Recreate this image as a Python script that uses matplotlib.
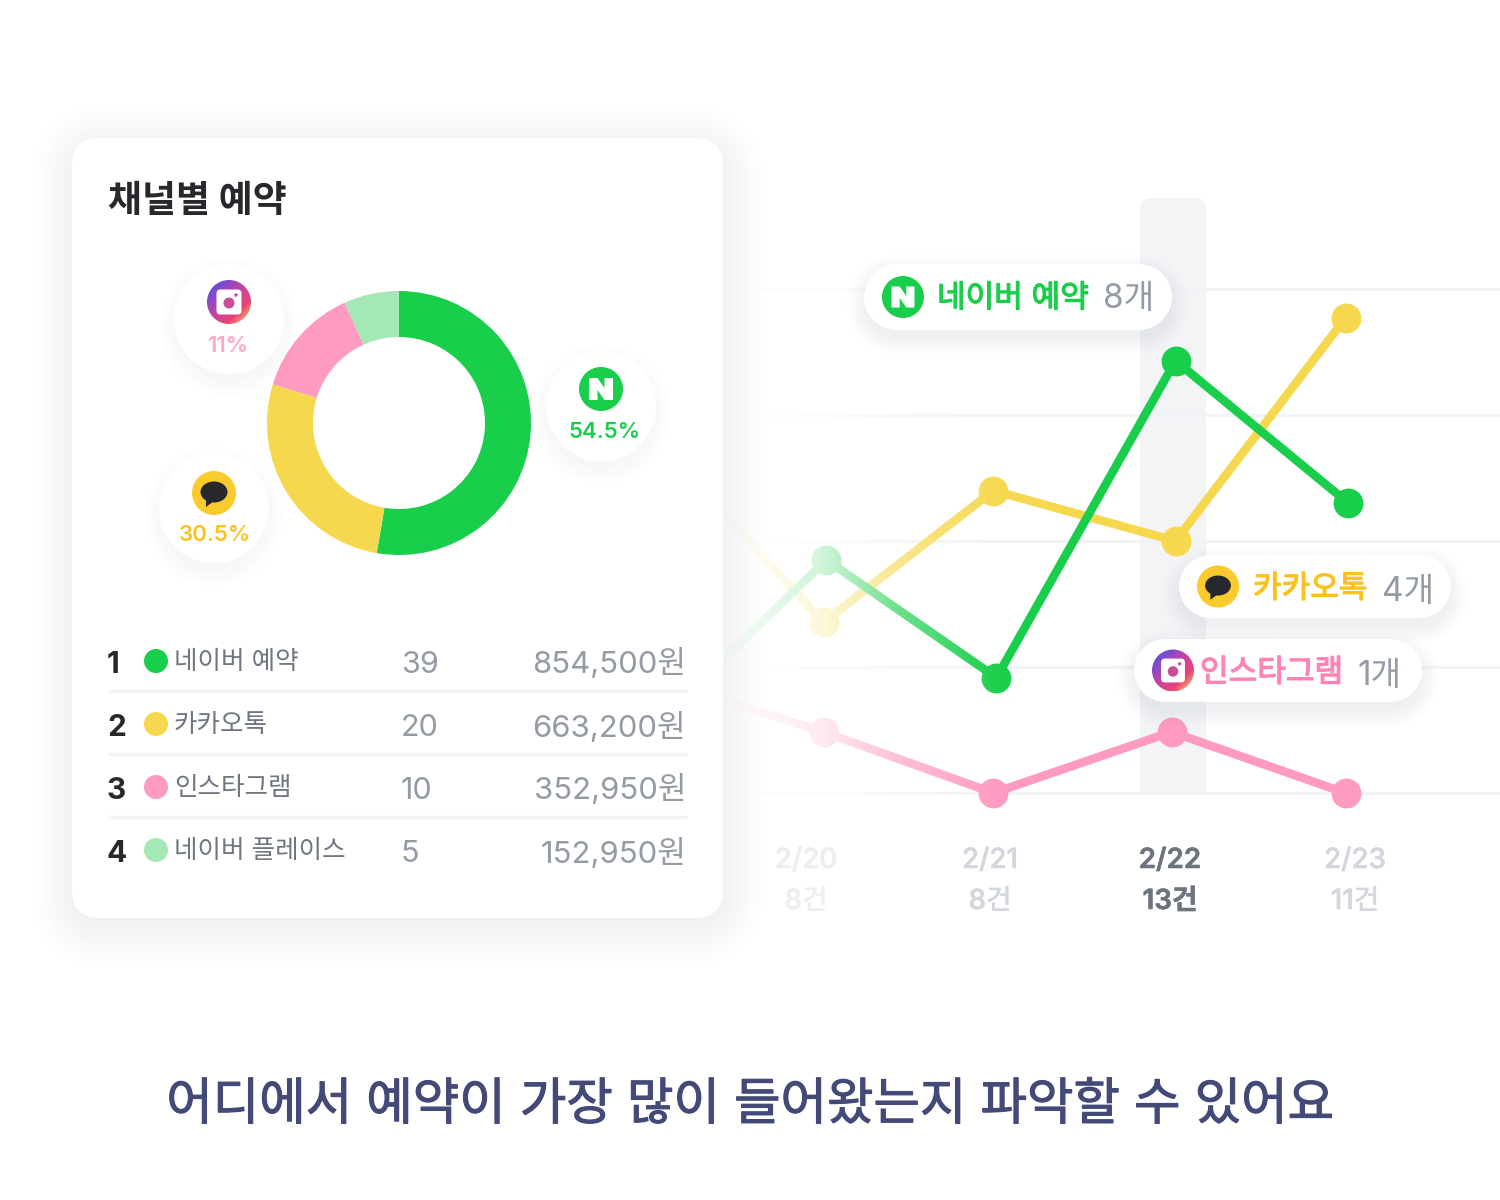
import numpy as np
import matplotlib
matplotlib.use("Agg")
import matplotlib.pyplot as plt
import matplotlib.patheffects as pe
from matplotlib.patches import Circle, Ellipse, FancyBboxPatch, Polygon, Rectangle

plt.rcParams['font.family'] = ['Inter', 'Noto Sans CJK KR', 'DejaVu Sans']

# --- data ---
CHANNELS = ["네이버 예약", "카카오톡", "인스타그램", "네이버 플레이스"]
BOOKINGS = [39, 20, 10, 5]
AMOUNTS = ["854,500원", "663,200원", "352,950원", "152,950원"]

BUBBLE_PCT = ["54.5%", "30.5%", "11%"]

DATES = ["2/20", "2/21", "2/22", "2/23"]
DAY_TOTALS = ["8건", "8건", "13건", "11건"]

# day index (2/20 = 0), 2/19 sits behind the card; y is count per day
NAVER_X = [-1, 0.017, 0.994, 2.023, 3.017]
NAVER_Y = [1.0, 3.7, 1.83, 6.86, 4.6]
KAKAO_X = [-1, 0, 0.977, 2.023, 3]
KAKAO_Y = [5.7, 2.71, 4.8, 4.0, 7.54]
INSTA_X = [-1, 0, 0.977, 2.0, 3]
INSTA_Y = [1.84, 0.97, 0.0, 0.97, 0.0]
GRID_VALUES = [0, 2, 4, 6, 8]

TAG_NAMES = ["네이버 예약", "카카오톡", "인스타그램"]
TAG_COUNTS = ["8개", "4개", "1개"]

GREEN = "#19CE4A"
YELLOW = "#F6D84E"
PINK = "#FF9AC0"
MINT = "#A4E8B5"
KAKAO_TXT = "#FBC21E"
INSTA_TXT = "#FF83B6"
GREY = "#949BA5"
DARK = "#26282B"
W, H = 1500, 1200


def pixel_axes(fig, zorder):
    ax = fig.add_axes([0, 0, 1, 1], zorder=zorder)
    ax.set_xlim(0, W)
    ax.set_ylim(H, 0)
    ax.set_autoscale_on(False)
    ax.axis('off')
    ax.patch.set_alpha(0)
    return ax


def heavy(txt, col, lw):
    """No medium cut of the CJK font here, so thicken regular with a thin stroke."""
    txt.set_path_effects([pe.withStroke(linewidth=lw, foreground=col)])
    return txt


def soft_shadow(ax, x0, y0, x1, y1, r, blur, alpha, dy=8, color=(0.35, 0.4, 0.5)):
    """Blurred rounded-box shadow drawn as an RGBA image."""
    xs = np.arange(x0 - blur, x1 + blur)
    ys = np.arange(y0 - blur + dy, y1 + blur + dy)
    X, Y = np.meshgrid(xs + 0.5, ys + 0.5)
    cx, cy = (x0 + x1) / 2, (y0 + y1) / 2 + dy
    qx = np.abs(X - cx) - (x1 - x0) / 2 + r
    qy = np.abs(Y - cy) - (y1 - y0) / 2 + r
    d = np.hypot(np.maximum(qx, 0), np.maximum(qy, 0)) + np.minimum(np.maximum(qx, qy), 0) - r
    t = np.clip(1 - (d + blur * 0.2) / blur, 0, 1)
    img = np.zeros(X.shape + (4,))
    img[..., :3] = color
    img[..., 3] = alpha * t * t * (3 - 2 * t)
    ax.imshow(img, extent=(xs[0], xs[-1] + 1, ys[-1] + 1, ys[0]), aspect='auto',
              interpolation='bilinear', zorder=1)


def white_box(ax, x0, y0, x1, y1, r, blur=34, alpha=0.13, z=2):
    soft_shadow(ax, x0, y0, x1, y1, r, blur, alpha)
    if 2 * r >= y1 - y0:
        # pill or circle: true round ends
        ax.add_patch(Circle((x0 + r, y0 + r), r, fc="white", ec="none", zorder=z))
        ax.add_patch(Circle((x1 - r, y0 + r), r, fc="white", ec="none", zorder=z))
        ax.add_patch(Rectangle((x0 + r, y0), x1 - x0 - 2 * r, y1 - y0, fc="white", ec="none", zorder=z))
    else:
        ax.add_patch(FancyBboxPatch((x0 + r, y0 + r), x1 - x0 - 2 * r, y1 - y0 - 2 * r,
                                    boxstyle=f"round,pad={r},rounding_size={r}",
                                    fc="white", ec="none", zorder=z))


def naver_icon(ax, cx, cy, r):
    ax.add_patch(Circle((cx, cy), r, fc=GREEN, ec="none", zorder=5))
    s = r / 22
    # wide block N
    n_shape = [(-12, -11), (-3.5, -11), (3.5, -1), (3.5, -11), (12, -11), (12, 11),
               (3.5, 11), (-3.5, 1), (-3.5, 11), (-12, 11), (-12, -11)]
    ax.add_patch(Polygon([(cx + a * s, cy + b * s) for a, b in n_shape], fc="white", ec="none", zorder=6))


def kakao_icon(ax, cx, cy, r):
    ax.add_patch(Circle((cx, cy), r, fc="#FBCB2D", ec="none", zorder=5))
    s = r / 22
    ax.add_patch(Ellipse((cx, cy - 1 * s), 27 * s, 21 * s, fc=DARK, ec="none", zorder=6))
    ax.add_patch(Polygon([(cx - 8 * s, cy + 6 * s), (cx - 8 * s, cy + 14 * s), (cx, cy + 8 * s)],
                         fc=DARK, ec="none", zorder=6))


def insta_icon(ax, cx, cy, r):
    s = r / 22
    u = np.linspace(0, 1, 90)
    X, Y = np.meshgrid(u, u)
    t = (X + Y) / 2
    img = np.zeros(X.shape + (3,))
    for i, stops in enumerate(([0.42, 0.78, 0.91, 0.98], [0.30, 0.27, 0.26, 0.68], [0.85, 0.62, 0.47, 0.40])):
        img[..., i] = np.interp(t, [0.15, 0.5, 0.72, 0.92], stops)
    im = ax.imshow(img, extent=(cx - r, cx + r, cy + r, cy - r), aspect='auto', zorder=5)
    im.set_clip_path(Circle((cx, cy), r, transform=ax.transData))
    ax.add_patch(FancyBboxPatch((cx - 9 * s, cy - 9 * s), 18 * s, 18 * s,
                                boxstyle=f"round,pad={3.5 * s},rounding_size={4 * s}",
                                fc="white", ec="none", zorder=6))
    ax.add_patch(Circle((cx, cy + 1 * s), 5.5 * s, fc="#C74F96", ec="none", zorder=7))
    ax.add_patch(Circle((cx + 7 * s, cy - 7 * s), 1.8 * s, fc="#D9508A", ec="none", zorder=7))


fig = plt.figure(figsize=(15, 12), dpi=100, facecolor="white")

# --- highlight column behind the lines ---
ax_bg = pixel_axes(fig, 0)
ax_bg.add_patch(FancyBboxPatch((1152, 210), 42, 600, boxstyle="round,pad=12,rounding_size=12",
                               fc="#F3F4F6", ec="none"))
ax_bg.add_patch(Rectangle((1130, 795), 90, 40, fc="white", ec="none"))

# --- line chart right of the card, scaled so one day = 174 px and one count = 63 px ---
ax_line = fig.add_axes([723 / W, 0, (W - 723) / W, 1], zorder=1)
ax_line.patch.set_alpha(0)
ax_line.set_xlim((723 - 823.5) / 174, (W - 823.5) / 174)
ax_line.set_ylim((793 - H) / 63, 793 / 63)
ax_line.set_xticks([])
ax_line.set_yticks(GRID_VALUES)
ax_line.tick_params(length=0, labelleft=False)
ax_line.grid(axis='y', color="#F1F3F6", lw=2.2)
ax_line.set_axisbelow(True)
for spine in ax_line.spines.values():
    spine.set_visible(False)
for xs, ys, col in ((INSTA_X, INSTA_Y, PINK), (KAKAO_X, KAKAO_Y, YELLOW), (NAVER_X, NAVER_Y, GREEN)):
    ax_line.plot(xs, ys, color=col, lw=6.2, marker='o', ms=21.5, mew=0, solid_joinstyle='miter')

# white fade that swallows the lines toward the card
ax_fade = pixel_axes(fig, 2)
fade_x = np.arange(723, 1000)
fade = np.ones((1, fade_x.size, 4))
fade[..., 3] = np.interp(fade_x, [723, 824, 900, 994], [1.0, 0.79, 0.36, 0.03])
ax_fade.imshow(fade, extent=(723, 1000, 830, 200), aspect='auto')

ax = pixel_axes(fig, 3)

# --- date labels ---
label_x = [806, 990, 1170, 1355]
label_col = ["#ECEEF1", "#D3D7DD", "#6E747E", "#D3D7DD"]
for i, (d, n) in enumerate(zip(DATES, DAY_TOTALS)):
    wt = 'semibold' if i == 2 else 'medium'
    heavy(ax.text(label_x[i], 861, d, color=label_col[i], fontsize=20, fontweight=wt, ha='center', va='center'),
          label_col[i], 0.4)
    heavy(ax.text(label_x[i], 902, n, color=label_col[i], fontsize=20, fontweight=wt, ha='center', va='center'),
          label_col[i], 0.4)

# --- floating tags ---
tags = [(864, 264, 1172, 330, naver_icon, 903, 937, 1103, "#19CE4A", 2, 2),
        (1179, 555, 1451, 618, kakao_icon, 1218, 1253, 1382, KAKAO_TXT, 3, 5),
        (1134, 639, 1422, 702, insta_icon, 1173, 1200, 1357, INSTA_TXT, 3, 5)]
for (x0, y0, x1, y1, icon, ix, tx, cx, col, dn, dc), name, cnt in zip(tags, TAG_NAMES, TAG_COUNTS):
    white_box(ax, x0, y0, x1, y1, (y1 - y0) / 2, blur=26, alpha=0.10)
    cy = (y0 + y1) / 2
    icon(ax, ix, cy, 21)
    heavy(ax.text(tx, cy + dn, name, color=col, fontsize=22.4, ha='left', va='center', zorder=6), col, 0.9)
    ax.text(cx, cy + dc, cnt, color=GREY, fontsize=24, ha='left', va='center', zorder=6)

# --- card ---
white_box(ax, 72, 138, 723, 918, 28, blur=60, alpha=0.09, z=8)
ax.text(108, 202, "채널별 예약", color=DARK, fontsize=26.6, fontweight='bold', ha='left', va='center', zorder=9)

# --- donut ---
ax_pie = fig.add_axes([(399 - 132) / W, 1 - (423 + 132) / H, 264 / W, 264 / H], zorder=5)
ax_pie.pie(BOOKINGS, colors=[GREEN, YELLOW, PINK, MINT], startangle=90, counterclock=False,
           radius=1.0, wedgeprops={'width': 46 / 132, 'linewidth': 0})
ax_pie.set_xlim(-1, 1)
ax_pie.set_ylim(-1, 1)

# --- percentage bubbles ---
ax_b = pixel_axes(fig, 6)
bubbles = [(601, 406, 604.5, naver_icon, BUBBLE_PCT[0], GREEN, 432),
           (214, 508, 215, kakao_icon, BUBBLE_PCT[1], KAKAO_TXT, 535),
           (229, 319, 228, insta_icon, BUBBLE_PCT[2], "#FFA6C9", 346)]
for cx, cy, tx, icon, pct, col, ty in bubbles:
    white_box(ax_b, cx - 55, cy - 55, cx + 55, cy + 55, 55, blur=24, alpha=0.05)
    icon(ax_b, cx, cy - 17 if icon is not kakao_icon else cy - 15, 22)
    ax_b.text(tx, ty, pct, color=col, fontsize=16, fontweight='semibold', ha='center', va='center', zorder=6)

# --- table ---
dot_cols = [GREEN, YELLOW, PINK, MINT]
for i, name in enumerate(CHANNELS):
    y = 663 + i * 63
    ax_b.text(107, y + 2, str(i + 1), color=DARK, fontsize=21.5, fontweight='bold', ha='left', va='center')
    ax_b.add_patch(Circle((156, y - 2), 12, fc=dot_cols[i], ec="none"))
    ax_b.text(174, y - 1, name, color="#6F767F", fontsize=18.4, ha='left', va='center')
    ax_b.text(401, y + 2, str(BOOKINGS[i]), color=GREY, fontsize=22, ha='left', va='center')
    ax_b.text(686, y + 1, AMOUNTS[i], color=GREY, fontsize=22.4, ha='right', va='center')
    if i < 3:
        ax_b.plot([108, 687], [y + 28, y + 28], color="#F1F3F5", lw=2.4, solid_capstyle='butt')

# --- caption ---
heavy(ax_b.text(751, 1106, "어디에서 예약이 가장 많이 들어왔는지 파악할 수 있어요", color="#434A78",
                fontsize=36.35, ha='center', va='center'), "#434A78", 0.8)

fig.savefig("out.png", dpi=100, facecolor="white")
